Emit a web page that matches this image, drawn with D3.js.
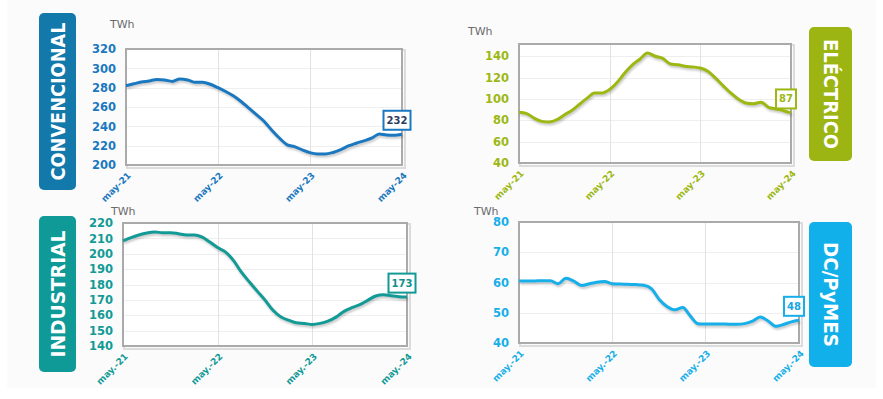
<!DOCTYPE html>
<html>
<head>
<meta charset="utf-8">
<script src="https://cdn.jsdelivr.net/npm/d3@7"></script>
<style>
  body { margin: 0; background: #fff; }
  svg { display: block; font-family: "DejaVu Sans", Verdana, sans-serif; }
</style>
</head>
<body>
<script>
// monthly rolling totals, may-21 .. may-24 (TWh)
var convencional = [282, 284, 285.8, 287, 288.5, 288, 286.5, 289, 288, 285.5, 285.5, 283.5, 280, 276,
  271.6, 265.7, 258.8, 252, 245, 236, 227.7, 220.8, 219, 215.6, 212.8, 211.4, 211.4, 213,
  216, 219.7, 222.5, 225, 227.7, 232, 231, 230.8, 231.8];
var electrico = [87.5, 86.3, 82, 79, 78.4, 80.6, 85.3, 89.4, 95.3, 101, 105.6, 105.6, 108.8, 115.6,
  124.4, 132, 137.5, 143, 140, 138, 132.8, 132, 130.6, 130, 129, 126, 119.7, 112.5,
  105.6, 100, 96.3, 95.5, 97, 92.2, 90.6, 89, 86.9];
var industrial = [208.3, 210.5, 212.2, 213.5, 214.1, 213.7, 213.7, 213, 212.2, 212.2, 210.9, 207.6,
  204, 201.1, 195.7, 188, 181.6, 175.7, 169.7, 163.2, 158.8, 156.7, 155.1, 154.7, 154, 154.7,
  156.2, 158.8, 162.5, 164.9, 166.9, 169.7, 172.5, 173.4, 172.7, 172.1, 171.8];
var dcPymes = [60.5, 60.5, 60.5, 60.6, 60.6, 59.6, 61.4, 60.5, 59, 59.6, 60.1, 60.3, 59.6, 59.5,
  59.4, 59.3, 59.1, 58, 54.4, 52.1, 51, 51.7, 49.1, 46.4, 46.3, 46.3, 46.3, 46.2, 46.2,
  46.4, 47.2, 48.6, 47.3, 45.5, 46.1, 47, 47.5];

var months = d3.range(37).map(function(i) { return new Date(2021, 4 + i, 1); });
var tickDates = [new Date(2021, 4, 1), new Date(2022, 4, 1), new Date(2023, 4, 1), new Date(2024, 4, 1)];
var tickLabelsA = ["may-21", "may-22", "may-23", "may-24"];
var tickLabelsB = ["may.-21", "may.-22", "may.-23", "may.-24"];

var titles = ["CONVENCIONAL", "ELÉCTRICO", "INDUSTRIAL", "DC/PyMES"];
var lastLabels = ["232", "87", "173", "48"];

var panels = [
  { title: titles[0], values: convencional, last: lastLabels[0], labels: tickLabelsA,
    color: "#1a78c0", boxColor: "#1379ab", lastColor: "#2b3c62",
    x0: 126, x1: 402, y0: 49, y1: 165, domain: [200, 320], ticks: d3.range(200, 321, 20),
    box: { x: 39, y: 13, w: 37, h: 177 }, rot: -90, twh: [110, 28], titleLen: 158 },
  { title: titles[1], values: electrico, last: lastLabels[1], labels: tickLabelsA,
    color: "#9cb813", boxColor: "#9db512", lastColor: "#9cb813",
    x0: 519, x1: 791, y0: 44, y1: 163, domain: [40, 151.5], ticks: d3.range(40, 141, 20),
    box: { x: 809, y: 27, w: 43, h: 134 }, rot: 90, twh: [468, 35], titleLen: 110 },
  { title: titles[2], values: industrial, last: lastLabels[2], labels: tickLabelsB,
    color: "#129a96", boxColor: "#0f9a98", lastColor: "#128f8c",
    x0: 123, x1: 407, y0: 223, y1: 346, domain: [140, 220], ticks: d3.range(140, 221, 10),
    box: { x: 39, y: 216, w: 37, h: 156 }, rot: -90, twh: [111, 215], titleLen: 127 },
  { title: titles[3], values: dcPymes, last: lastLabels[3], labels: tickLabelsB,
    color: "#17afe9", boxColor: "#12b0ea", lastColor: "#17a6e0",
    x0: 519, x1: 799, y0: 222, y1: 343, domain: [40, 80], ticks: d3.range(40, 81, 10),
    box: { x: 809, y: 222, w: 43, h: 145 }, rot: 90, twh: [474, 215], titleLen: 105 }
];

var svg = d3.select("body").append("svg")
    .attr("width", 883)
    .attr("height", 399);

var defs = svg.append("defs");
defs.append("filter").attr("id", "blur")
  .append("feGaussianBlur").attr("stdDeviation", 1.2);

// faint page background
svg.append("rect")
    .attr("x", 7).attr("y", 0)
    .attr("width", 869).attr("height", 388)
    .attr("fill", "#fbfbfb");

panels.forEach(function(p) {
  var x = d3.scaleTime().domain([months[0], months[36]]).range([p.x0, p.x1]);
  var y = d3.scaleLinear().domain(p.domain).range([p.y1, p.y0]);
  var g = svg.append("g");

  // plot frame shadow + background
  g.append("rect")
      .attr("x", p.x0 + 1).attr("y", p.y0 + 1)
      .attr("width", p.x1 - p.x0 + 2).attr("height", p.y1 - p.y0 + 2)
      .attr("fill", "none").attr("stroke", "#dcdcdc").attr("stroke-width", 2);
  g.append("rect")
      .attr("x", p.x0).attr("y", p.y0)
      .attr("width", p.x1 - p.x0).attr("height", p.y1 - p.y0)
      .attr("fill", "#fff");

  // grid lines
  g.selectAll(".hgrid").data(p.ticks).enter().append("line")
      .attr("x1", p.x0).attr("x2", p.x1)
      .attr("y1", function(d) { return Math.round(y(d)) + 0.5; })
      .attr("y2", function(d) { return Math.round(y(d)) + 0.5; })
      .attr("stroke", "#eeeeee");
  g.selectAll(".vgrid").data(tickDates.slice(1, 3)).enter().append("line")
      .attr("x1", function(d) { return Math.round(x(d)) + 0.5; })
      .attr("x2", function(d) { return Math.round(x(d)) + 0.5; })
      .attr("y1", p.y0).attr("y2", p.y1)
      .attr("stroke", "#e2e2e2");

  g.append("rect")
      .attr("x", p.x0).attr("y", p.y0)
      .attr("width", p.x1 - p.x0).attr("height", p.y1 - p.y0)
      .attr("fill", "none").attr("stroke", "#aaaaaa").attr("stroke-width", 2);

  // y axis
  var yAxis = g.append("g")
      .attr("transform", "translate(" + p.x0 + ",0)")
      .call(d3.axisLeft(y).tickValues(p.ticks).tickSize(0).tickPadding(10));
  yAxis.select(".domain").remove();
  yAxis.selectAll("text")
      .attr("fill", p.color)
      .style("font-size", "11.5px")
      .style("font-weight", "bold")
      .style("font-family", "'DejaVu Sans', Verdana, sans-serif");

  // x axis
  var xAxis = g.append("g")
      .attr("transform", "translate(0," + p.y1 + ")")
      .call(d3.axisBottom(x).tickValues(tickDates).tickSize(0)
        .tickFormat(function(d, i) { return p.labels[i]; }));
  xAxis.select(".domain").remove();
  xAxis.selectAll("text")
      .attr("fill", p.color)
      .attr("dy", null).attr("y", null)
      .attr("text-anchor", "end")
      .attr("transform", "translate(5,11) rotate(-45)")
      .style("font-size", "9px")
      .style("font-weight", "bold")
      .style("font-family", "'DejaVu Sans', Verdana, sans-serif");

  // unit
  g.append("text")
      .attr("x", p.twh[0]).attr("y", p.twh[1])
      .attr("fill", "#6b6b6b")
      .style("font-size", "11px")
      .text("TWh");

  // line with soft shadow
  var line = d3.line()
      .x(function(d, i) { return x(months[i]); })
      .y(function(d) { return y(d); })
      .curve(d3.curveMonotoneX);

  g.append("path")
      .datum(p.values)
      .attr("d", line)
      .attr("transform", "translate(1,2)")
      .attr("fill", "none")
      .attr("stroke", "rgba(0,0,0,0.22)")
      .attr("stroke-width", 3)
      .attr("filter", "url(#blur)");
  g.append("path")
      .datum(p.values)
      .attr("d", line)
      .attr("fill", "none")
      .attr("stroke", p.color)
      .attr("stroke-width", 3)
      .attr("stroke-linejoin", "round");

  // last value box
  var lx = x(months[36]), ly = y(p.values[36]);
  var bw = p.last.length * 7 + 6, bh = 19;
  var bx = lx - 5 - bw / 2, by = ly - 14 - bh / 2;
  g.append("rect")
      .attr("x", bx).attr("y", by)
      .attr("width", bw).attr("height", bh)
      .attr("fill", "#fff")
      .attr("stroke", p.color).attr("stroke-width", 2);
  g.append("text")
      .attr("x", bx + bw / 2).attr("y", by + bh / 2)
      .attr("text-anchor", "middle")
      .attr("dominant-baseline", "central")
      .attr("fill", p.lastColor)
      .style("font-size", "10px")
      .style("font-weight", "bold")
      .text(p.last);

  // title box
  g.append("rect")
      .attr("x", p.box.x).attr("y", p.box.y)
      .attr("width", p.box.w).attr("height", p.box.h)
      .attr("rx", 5).attr("ry", 5)
      .attr("fill", p.boxColor);
  var cx = p.box.x + p.box.w / 2, cy = p.box.y + p.box.h / 2;
  g.append("text")
      .attr("transform", "translate(" + cx + "," + cy + ") rotate(" + p.rot + ")")
      .attr("text-anchor", "middle")
      .attr("dominant-baseline", "central")
      .attr("fill", "#fff")
      .attr("textLength", p.titleLen)
      .attr("lengthAdjust", "spacingAndGlyphs")
      .style("font-size", "19px")
      .style("font-weight", "bold")
      .text(p.title);
});
</script>
</body>
</html>
